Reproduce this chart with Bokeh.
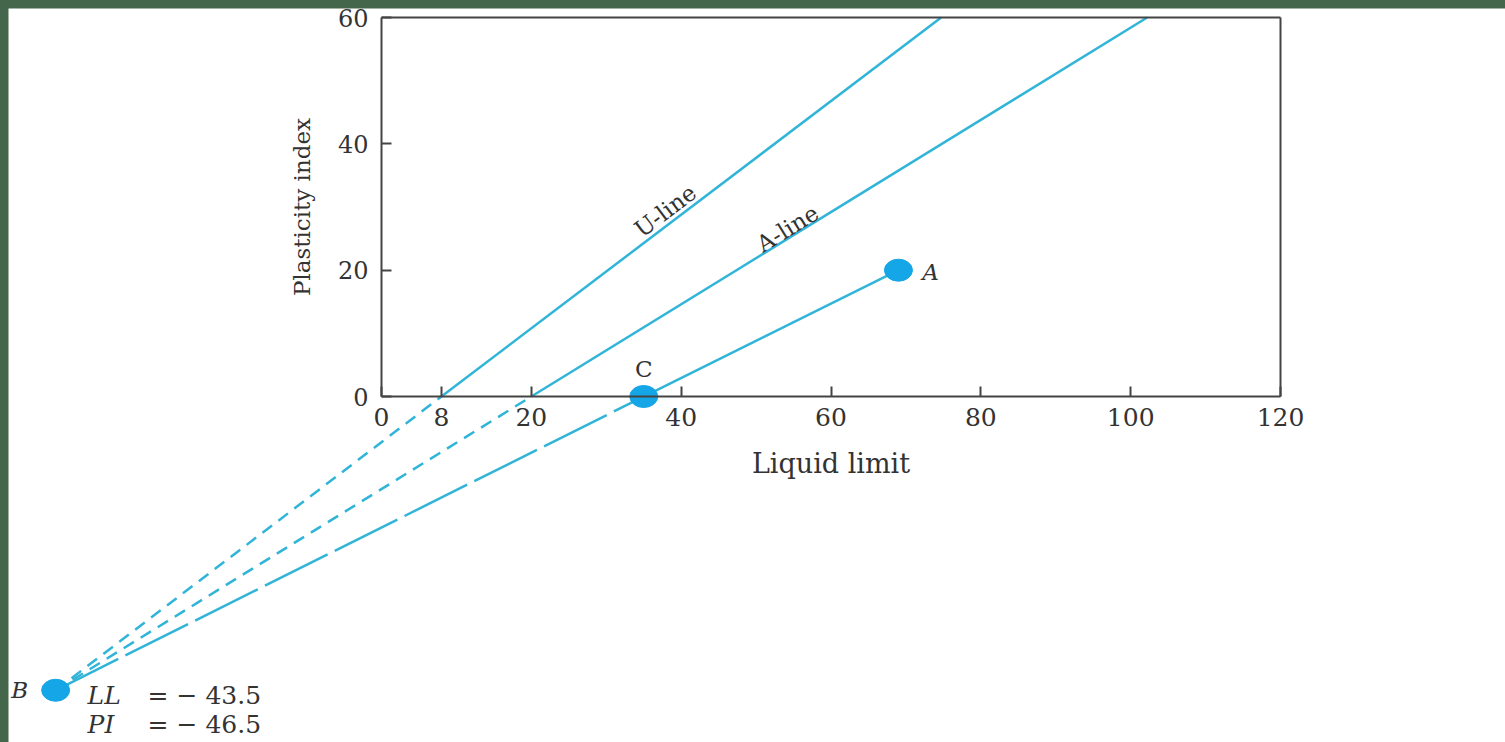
from bokeh.plotting import figure
from bokeh.models import Range1d, LinearAxis, FixedTicker, ColumnDataSource
from bokeh.embed import file_html
from bokeh.resources import INLINE
from bokeh.core.properties import value

# ---- data ----
x_ticks = [0, 8, 20, 40, 60, 80, 100, 120]
y_ticks = [0, 20, 40, 60]
x_label = "Liquid limit"
y_label = "Plasticity index"

u_line_ll = [8, 74.7]
u_line_pi = [0, 60]
a_line_ll = [20, 102.2]
a_line_pi = [0, 60]

point_names = ["A", "B", "C"]
point_ll = [69, -43.5, 35]
point_pi = [20, -46.5, 0]

line_names = ["U-line", "A-line"]
line_label_ll = [37.9, 54.2]
line_label_pi = [29.4, 26.6]
line_label_angle = [37.0, 31.5]

b_symbols = ["LL", "PI"]
b_values = ["= \u2212 43.5", "= \u2212 46.5"]

# ---- styles ----
FONT = "DejaVu Serif"
TXT = "#333333"
LINE = "#30b4d8"
DOT = "#14a6e6"
FRAME = "#444444"

p = figure(width=1497, height=734,
           x_range=Range1d(-49.79, 150.03), y_range=Range1d(-54.77, 61.425),
           output_backend="svg", toolbar_location=None,
           x_axis_location=None, y_axis_location=None,
           min_border=0, outline_line_color=None,
           background_fill_color="white", border_fill_color="white")
p.grid.visible = False

# axes forming the frame
xaxis = LinearAxis(fixed_location=0, bounds=(0, 120), ticker=FixedTicker(ticks=x_ticks),
                   axis_label=x_label)
yaxis = LinearAxis(fixed_location=0, bounds=(0, 60), ticker=FixedTicker(ticks=y_ticks),
                   axis_label=y_label)
for ax, fs, lfs in ((xaxis, "25px", "27px"), (yaxis, "24px", "23px")):
    ax.axis_line_color = FRAME
    ax.axis_line_width = 2
    ax.major_tick_line_color = FRAME
    ax.major_tick_line_width = 2
    ax.major_tick_in = 10
    ax.major_tick_out = 0
    ax.minor_tick_line_color = None
    ax.major_label_text_font = FONT
    ax.major_label_text_font_size = fs
    ax.major_label_text_color = TXT
    ax.axis_label_text_font = FONT
    ax.axis_label_text_font_size = lfs
    ax.axis_label_text_font_style = "normal"
    ax.axis_label_text_color = TXT
xaxis.major_label_standoff = 11
xaxis.axis_label_standoff = 19
yaxis.major_label_standoff = 13
yaxis.axis_label_standoff = 20
p.add_layout(xaxis, "below")
p.add_layout(yaxis, "left")

top = LinearAxis(fixed_location=60, bounds=(0, 120), ticker=FixedTicker(ticks=[]),
                 axis_line_color=FRAME, axis_line_width=2,
                 major_tick_line_color=None, minor_tick_line_color=None)
right = LinearAxis(fixed_location=120, bounds=(0, 60), ticker=FixedTicker(ticks=[]),
                   axis_line_color=FRAME, axis_line_width=2,
                   major_tick_line_color=None, minor_tick_line_color=None)
p.add_layout(top, "above")
p.add_layout(right, "right")

A, B, C = 0, 1, 2

# U-line and A-line (solid) with dashed extensions to B
p.line(u_line_ll, u_line_pi, line_color=LINE, line_width=2.5)
p.line(a_line_ll, a_line_pi, line_color=LINE, line_width=2.5)
p.line([point_ll[B], u_line_ll[0]], [point_pi[B], u_line_pi[0]],
       line_color=LINE, line_width=2.5, line_dash="12 8")
p.line([point_ll[B], a_line_ll[0]], [point_pi[B], a_line_pi[0]],
       line_color=LINE, line_width=2.5, line_dash="12 8")
# line through A, C, B
p.line([point_ll[C], point_ll[A]], [point_pi[C], point_pi[A]],
       line_color=LINE, line_width=2.5)
p.line([point_ll[B], point_ll[C]], [point_pi[B], point_pi[C]],
       line_color=LINE, line_width=2.5, line_dash="70 8")

# points
p.ellipse(point_ll, point_pi, width=28, height=22, width_units="screen",
          height_units="screen", fill_color=DOT, line_color=DOT)

# point labels
src_pts = ColumnDataSource(dict(x=point_ll, y=point_pi, t=point_names,
                                dx=[32, -36, 0], dy=[2, 0, -28],
                                st=["italic", "italic", "normal"]))
p.text("x", "y", text="t", source=src_pts, x_offset="dx", y_offset="dy",
       text_font=value(FONT), text_font_size="23px", text_font_style="st",
       text_color=TXT, text_align="center", text_baseline="middle")

# line labels
src_ln = ColumnDataSource(dict(x=line_label_ll, y=line_label_pi, t=line_names,
                               a=line_label_angle))
p.text("x", "y", text="t", angle="a", angle_units="deg", source=src_ln,
       text_font=value(FONT), text_font_size="23px", text_color=TXT,
       text_align="center", text_baseline="middle")

# LL / PI of B
bx = [point_ll[B]] * 2
by = [point_pi[B]] * 2
p.text(bx, by, text=b_symbols, x_offset=32, y_offset=[5, 34],
       text_font=value(FONT), text_font_size="25px", text_font_style="italic",
       text_color=TXT, text_align="left", text_baseline="middle")
p.text(bx, by, text=b_values, x_offset=92, y_offset=[5, 34],
       text_font=value(FONT), text_font_size="25px",
       text_color=TXT, text_align="left", text_baseline="middle")

html = file_html(p, INLINE, title="Plasticity chart")
html = html.replace(
    "</head>",
    "<style>html,body{margin:0 !important;}body{padding:8px 0 0 8px !important;"
    "background:#44664a !important;overflow:hidden !important;}</style></head>", 1)
open("out.html", "w").write(html)
